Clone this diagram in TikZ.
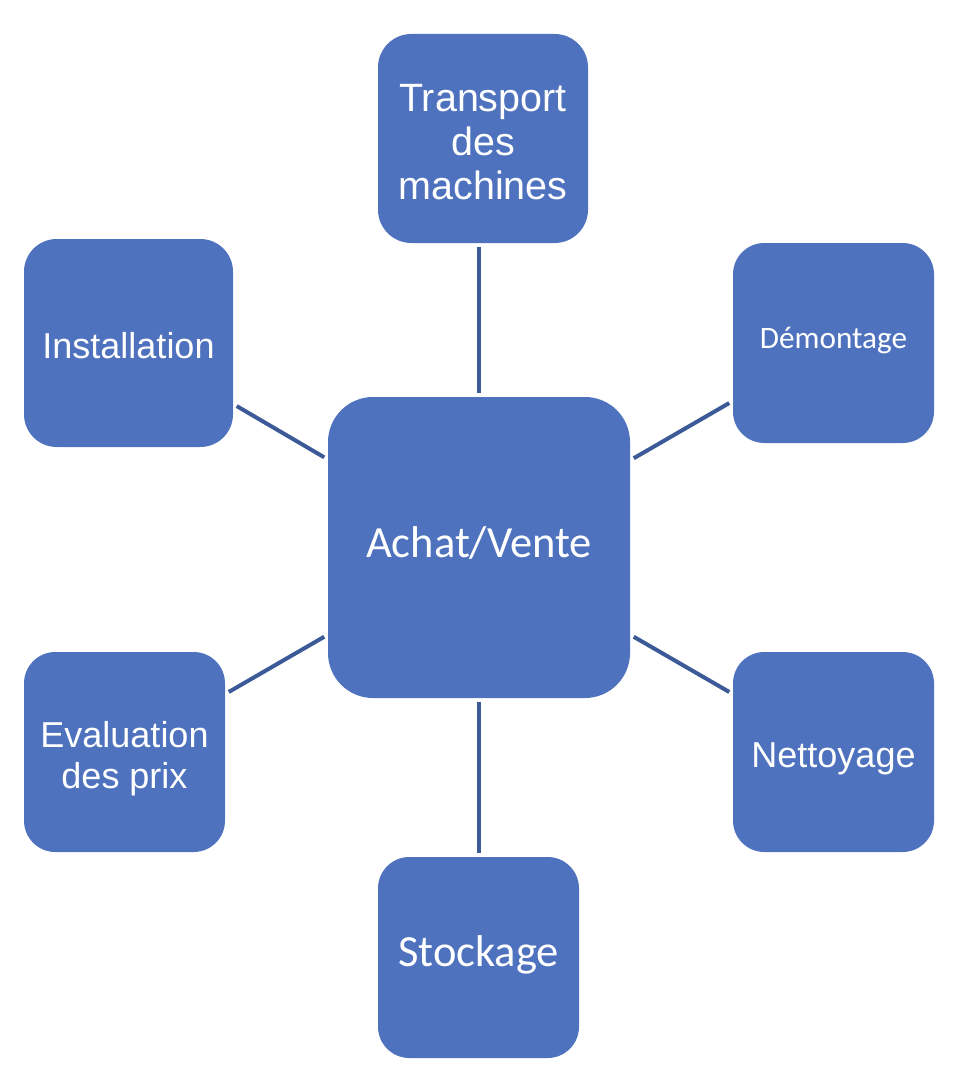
\documentclass[tikz,border=0pt]{standalone}
\usepackage{fontspec}
\setmainfont{Liberation Sans}
\newfontfamily\calibri{Carlito}
\definecolor{boxblue}{HTML}{4E72BE}
\definecolor{linkblue}{HTML}{3D5A98}

\begin{document}
\begin{tikzpicture}[x=0.75pt,y=-0.75pt,
		box/.style={rectangle, fill=boxblue, text=white, align=center, inner sep=0pt},
		small box/.style={box, minimum width=150.75pt, minimum height=150pt, rounded corners=23.5pt},
		link/.style={draw=linkblue, line width=3pt, shorten <=3pt, shorten >=3pt}]
		\useasboundingbox (0,0) rectangle (972,1074);
		\node[box, minimum width=226.5pt, minimum height=225.75pt, rounded corners=33.75pt,
			font=\calibri\fontsize{33.4}{40}\selectfont, text height=24pt, text depth=9.75pt] (achat) at (479,547.5) {Achat/Vente};
		\node[box, minimum width=157.5pt, minimum height=156.75pt, rounded corners=25pt,
			font=\fontsize{29.6}{33}\selectfont] (transport) at (483,138.5) {\rule{0pt}{26pt}Transport\\des\\machines};
		\node[small box, font=\calibri\fontsize{23.4}{28}\selectfont, text height=17pt, text depth=9pt] (demontage) at (833.5,343) {Démontage};
		\node[small box, minimum width=156.75pt, minimum height=156pt, rounded corners=24.5pt,
			font=\fontsize{27}{32}\selectfont, text height=25pt, text depth=2.5pt] (installation) at (128.5,343) {Installation};
		\node[small box, font=\fontsize{27}{30.5}\selectfont] (evaluation) at (124.5,752) {\rule{0pt}{30pt}Evaluation\\des prix};
		\node[small box, font=\fontsize{27}{32}\selectfont, text height=25pt, text depth=2.5pt] (nettoyage) at (833.5,752) {Nettoyage};
		\node[small box, minimum height=150.75pt, font=\calibri\fontsize{33.4}{40}\selectfont, text height=23pt, text depth=10.25pt] (stockage) at (478.5,957.5) {Stockage};

		\draw[link] (achat.north) -- (achat.north |- transport.south);
		\draw[link] (achat) -- (demontage);
		\draw[link] (achat) -- (nettoyage);
		\draw[link] (achat.south) -- (achat.south |- stockage.north);
		\draw[link] (achat) -- (evaluation);
		\draw[link] (achat) -- (installation);
\end{tikzpicture}
\end{document}
